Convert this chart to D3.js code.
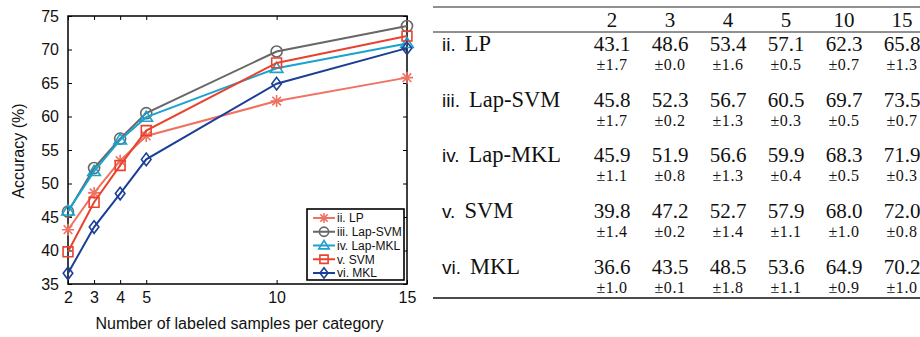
<!DOCTYPE html>
<html><head><meta charset="utf-8">
<script src="https://cdn.jsdelivr.net/npm/d3@7"></script>
<style>body{margin:0;background:#fff} svg{display:block}</style>
</head><body>
<script>
// Number of labeled samples per category
const samples = [2, 3, 4, 5, 10, 15];
const yTicks = [35, 40, 45, 50, 55, 60, 65, 70, 75];

// Methods: roman numeral + name
const methodNums = ["ii.", "iii.", "iv.", "v.", "vi."];
const methodNames = ["LP", "Lap-SVM", "Lap-MKL", "SVM", "MKL"];

// Plotted accuracy curves (%)
const lpAcc     = [43.1, 48.6, 53.4, 57.1, 62.3, 65.8];
const lapSvmAcc = [45.8, 52.3, 56.7, 60.5, 69.7, 73.5];
const lapMklAcc = [45.9, 51.8, 56.5, 59.9, 67.2, 70.9];
const svmAcc    = [39.8, 47.2, 52.7, 57.9, 68.0, 72.0];
const mklAcc    = [36.6, 43.5, 48.5, 53.6, 64.9, 70.2];

// Table: mean accuracy and standard deviation
const lpMean     = [43.1, 48.6, 53.4, 57.1, 62.3, 65.8];
const lpStd      = [1.7, 0.0, 1.6, 0.5, 0.7, 1.3];
const lapSvmMean = [45.8, 52.3, 56.7, 60.5, 69.7, 73.5];
const lapSvmStd  = [1.7, 0.2, 1.3, 0.3, 0.5, 0.7];
const lapMklMean = [45.9, 51.9, 56.6, 59.9, 68.3, 71.9];
const lapMklStd  = [1.1, 0.8, 1.3, 0.4, 0.5, 0.3];
const svmMean    = [39.8, 47.2, 52.7, 57.9, 68.0, 72.0];
const svmStd     = [1.4, 0.2, 1.4, 1.1, 1.0, 0.8];
const mklMean    = [36.6, 43.5, 48.5, 53.6, 64.9, 70.2];
const mklStd     = [1.0, 0.1, 1.8, 1.1, 0.9, 1.0];

const series = [
  {name: methodNums[0] + " " + methodNames[0], values: lpAcc,     color: "#ef7262", marker: "asterisk"},
  {name: methodNums[1] + " " + methodNames[1], values: lapSvmAcc, color: "#676767", marker: "circle"},
  {name: methodNums[2] + " " + methodNames[2], values: lapMklAcc, color: "#1ba2cf", marker: "triangle"},
  {name: methodNums[3] + " " + methodNames[3], values: svmAcc,    color: "#e8432e", marker: "square"},
  {name: methodNums[4] + " " + methodNames[4], values: mklAcc,    color: "#1c3f96", marker: "diamond"}
];
const tableRows = [
  {num: methodNums[0], name: methodNames[0], mean: lpMean,     std: lpStd},
  {num: methodNums[1], name: methodNames[1], mean: lapSvmMean, std: lapSvmStd},
  {num: methodNums[2], name: methodNames[2], mean: lapMklMean, std: lapMklStd},
  {num: methodNums[3], name: methodNames[3], mean: svmMean,    std: svmStd},
  {num: methodNums[4], name: methodNames[4], mean: mklMean,    std: mklStd}
];

const W = 920, H = 337;
const svg = d3.select("body").append("svg").attr("width", W).attr("height", H);
const SANS = "'Liberation Sans', Arial, Helvetica, sans-serif";
const SERIF = "'Liberation Serif', 'Times New Roman', serif";

// ---------- line chart ----------
const plot = {left: 68, right: 407, top: 16, bottom: 284};
const x = d3.scaleLinear().domain([2, 15]).range([plot.left, plot.right]);
const y = d3.scaleLinear().domain([35, 75]).range([plot.bottom, plot.top]);

const g = svg.append("g");

// inward ticks on all four sides
const tickLen = 4;
const axisStyle = sel => {
  sel.select(".domain").remove();
  sel.selectAll(".tick line").attr("stroke", "#000").attr("stroke-width", 1);
  sel.selectAll(".tick text").attr("font-family", SANS).attr("font-size", 16).attr("fill", "#111");
};
g.append("g").attr("transform", `translate(0,${plot.bottom})`)
  .call(d3.axisBottom(x).tickValues(samples).tickSize(-tickLen).tickPadding(8).tickFormat(d3.format("d")))
  .call(axisStyle);
g.append("g").attr("transform", `translate(0,${plot.top})`)
  .call(d3.axisTop(x).tickValues(samples).tickSize(-tickLen).tickFormat(""))
  .call(axisStyle);
g.append("g").attr("transform", `translate(${plot.left},0)`)
  .call(d3.axisLeft(y).tickValues(yTicks).tickSize(-tickLen).tickPadding(9).tickFormat(d3.format("d")))
  .call(axisStyle);
g.append("g").attr("transform", `translate(${plot.right},0)`)
  .call(d3.axisRight(y).tickValues(yTicks).tickSize(-tickLen).tickFormat(""))
  .call(axisStyle);

g.append("rect")
  .attr("x", plot.left).attr("y", plot.top)
  .attr("width", plot.right - plot.left).attr("height", plot.bottom - plot.top)
  .attr("fill", "none").attr("stroke", "#000").attr("stroke-width", 1.5);

// marker shapes
function markerPath(type, s) {
  switch (type) {
    case "asterisk": {
      const a = s * 0.72;
      return `M${-s},0L${s},0M0,${-s}L0,${s}M${-a},${-a}L${a},${a}M${-a},${a}L${a},${-a}`;
    }
    case "circle": return d3.symbol(d3.symbolCircle, Math.PI * s * s * 0.85)();
    case "triangle": return `M0,${-s}L${s * 1.05},${s * 0.68}L${-s * 1.05},${s * 0.68}Z`;
    case "square": { const h = s * 0.82; return `M${-h},${-h}H${h}V${h}H${-h}Z`; }
    case "diamond": return `M0,${-s * 1.05}L${s * 0.8},0L0,${s * 1.05}L${-s * 0.8},0Z`;
  }
}

const line = d3.line().x((d, i) => x(samples[i])).y(d => y(d));
series.forEach(s => {
  const sg = g.append("g");
  sg.append("path").datum(s.values).attr("d", line)
    .attr("fill", "none").attr("stroke", s.color).attr("stroke-width", 2);
  sg.selectAll("path.mk").data(s.values).join("path").attr("class", "mk")
    .attr("transform", (d, i) => `translate(${x(samples[i])},${y(d)})`)
    .attr("d", markerPath(s.marker, 6))
    .attr("fill", "none").attr("stroke", s.color).attr("stroke-width", 1.6);
});

// axis titles
g.append("text").attr("x", (plot.left + plot.right) / 2 + 2).attr("y", 329)
  .attr("text-anchor", "middle").attr("font-family", SANS).attr("font-size", 16).attr("fill", "#111")
  .text("Number of labeled samples per category");
g.append("text").attr("transform", "translate(24,151) rotate(-90)")
  .attr("text-anchor", "middle").attr("font-family", SANS).attr("font-size", 16).attr("fill", "#111")
  .text("Accuracy (%)");

// legend
const lg = g.append("g");
const lgBox = {x: 307, y: 209, w: 97, h: 71};
lg.append("rect").attr("x", lgBox.x).attr("y", lgBox.y).attr("width", lgBox.w).attr("height", lgBox.h)
  .attr("fill", "#fff").attr("stroke", "#000").attr("stroke-width", 1.6);
const lgY = d3.scalePoint().domain(series.map(s => s.name)).range([218, 273]);
series.forEach(s => {
  const cy = lgY(s.name);
  lg.append("line").attr("x1", 313).attr("x2", 335).attr("y1", cy).attr("y2", cy)
    .attr("stroke", s.color).attr("stroke-width", 2);
  lg.append("path").attr("transform", `translate(324,${cy})`).attr("d", markerPath(s.marker, 5))
    .attr("fill", "none").attr("stroke", s.color).attr("stroke-width", 1.6);
  lg.append("text").attr("x", 337).attr("y", cy + 4.3)
    .attr("font-family", SANS).attr("font-size", 12).attr("fill", "#111").text(s.name);
});

// ---------- results table ----------
const tx = d3.scaleBand().domain(samples).range([583, 931]);
const tbl = svg.append("g");
const ruleX1 = 433, ruleX2 = W + 20;
tbl.append("line").attr("x1", ruleX1).attr("x2", ruleX2).attr("y1", 7).attr("y2", 7)
  .attr("stroke", "#222").attr("stroke-width", 1.2);
tbl.append("line").attr("x1", ruleX1).attr("x2", ruleX2).attr("y1", 32).attr("y2", 32)
  .attr("stroke", "#222").attr("stroke-width", 1);
tbl.append("line").attr("x1", ruleX1).attr("x2", ruleX2).attr("y1", 298).attr("y2", 298)
  .attr("stroke", "#111").attr("stroke-width", 1.4);

tbl.selectAll("text.hd").data(samples).join("text").attr("class", "hd")
  .attr("x", d => tx(d) + tx.bandwidth() / 2).attr("y", 27)
  .attr("text-anchor", "middle").attr("font-family", SERIF).attr("font-size", 21).attr("fill", "#111")
  .text(d => d);

const rowY = d3.scalePoint().domain(d3.range(tableRows.length)).range([51, 273.5]);
tableRows.forEach((r, ri) => {
  const by = rowY(ri);
  const lbl = tbl.append("text").attr("x", 442).attr("y", by).attr("fill", "#111");
  lbl.append("tspan").attr("font-family", SANS).attr("font-size", 19).text(r.num);
  lbl.append("tspan").attr("dx", 9).attr("font-family", SERIF).attr("font-size", 22.5).text(r.name);
  tbl.selectAll(null).data(r.mean).join("text")
    .attr("x", (d, i) => tx(samples[i]) + tx.bandwidth() / 2).attr("y", by)
    .attr("text-anchor", "middle").attr("font-family", SERIF).attr("font-size", 21).attr("fill", "#111")
    .text(d => d.toFixed(1));
  tbl.selectAll(null).data(r.std).join("text")
    .attr("x", (d, i) => tx(samples[i]) + tx.bandwidth() / 2).attr("y", by + 19)
    .attr("text-anchor", "middle").attr("font-family", SERIF).attr("font-size", 16).attr("fill", "#111")
    .attr("letter-spacing", 0.6)
    .text(d => "\u00b1" + d.toFixed(1));
});
</script>
</body></html>
